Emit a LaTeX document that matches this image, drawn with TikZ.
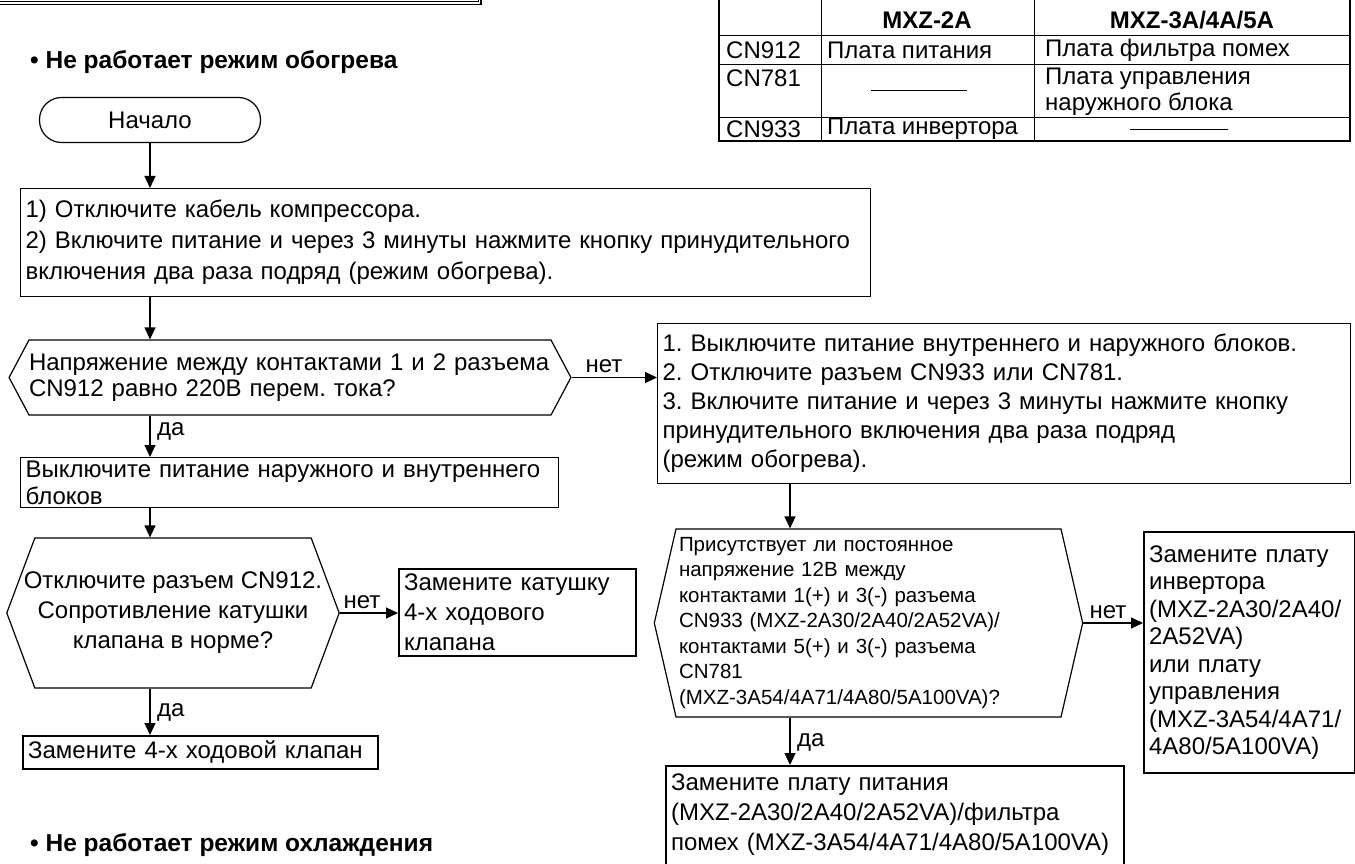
\documentclass[tikz,border=0pt]{standalone}
\usepackage{fontspec}
\setmainfont{Liberation Sans}
\usetikzlibrary{arrows.meta,positioning,shapes.symbols}

\newcommand\txtfont{\fontsize{24}{28}\selectfont}
\newcommand\txtsmall{\fontsize{20.5}{25.5}\selectfont}
\frenchspacing

\begin{document}
\begin{tikzpicture}[
    x=1pt, y=-1pt,
    box/.style={draw, line width=1.2pt, inner sep=5pt, align=left, font=\txtfont},
    thickbox/.style={box, line width=2.2pt},
    dec/.style={draw, line width=1.2pt, signal, signal to=west and east, inner ysep=5pt, font=\txtfont},
    arr/.style={-{Triangle[length=12pt, width=11pt]}, line width=1.2pt},
    lbl/.style={font=\txtfont, inner sep=2pt},
    head/.style={font=\fontsize{24.5}{28}\selectfont\bfseries, anchor=west, inner sep=0pt},
    cell/.style={font=\txtfont, anchor=west, inner sep=0pt, align=left}
]
\useasboundingbox (0,0) rectangle (1355,864);

% rest of the frame above
\draw[line width=0.8pt] (0,1.2) -- (478,1.2) -- (478,0);
\draw[line width=1.8pt] (0,4.5) -- (481,4.5) -- (481,0);

% connector table
\draw[line width=0.9pt] (821,-10) -- (821,141) (1034,-10) -- (1034,141)
    (719,35) -- (1350,35) (719,64) -- (1350,64) (719,117) -- (1350,117);
\draw[line width=1.6pt] (719,-10) rectangle (1350,141);
\node[cell, anchor=center, font=\txtfont\bfseries] (hA) at (927,20) {MXZ-2A};
\node[cell, anchor=center, font=\txtfont\bfseries] (hB) at (1192,20) {MXZ-3A/4A/5A};
\node[cell] (r1) at (726,50) {CN912};
\node[cell] (r1a) at (827,50) {Плата питания};
\node[cell] (r1b) at (1045,50) {Плата фильтра помех};
\node[cell] (r2) at (726,78) {CN781};
\node[cell, anchor=north west, font=\fontsize{24}{26}\selectfont] (r2b) at (1045,68) {Плата управления\\наружного блока};
\node[cell] (r3) at (726,129) {CN933};
\node[cell] (r3a) at (827,129) {Плата инвертора};
\draw[line width=0.9pt] (871,90) -- (967,90) (1130,129) -- (1228,129);

% heating
\coordinate (colL) at (150,0);
\coordinate (colR) at (790,0);
\node[head] (heat) at (30,62) {• Не работает режим обогрева};
\node[draw, line width=1.2pt, rounded corners=22pt, minimum width=221pt, minimum height=45pt, font=\txtfont] (start) at (150,120) {Начало};

\node[box, anchor=north west, text width=840pt, minimum height=108pt, font=\fontsize{24}{31}\selectfont] (step1) at (20,188)
    {1) Отключите кабель компрессора.\\2) Включите питание и через 3 минуты нажмите кнопку принудительного\\включения два раза подряд (режим обогрева).};
\node[dec, align=left, text width=522pt, inner xsep=0pt, minimum height=75pt, signal pointer angle=124, font=\fontsize{24}{26.5}\selectfont] (volt) at (290,377.5)
    {Напряжение между контактами 1 и 2 разъема\\CN912 равно 220В перем. тока?};
\node[box, anchor=north west, text width=528pt, inner ysep=3pt, font=\fontsize{24}{27}\selectfont] (off1) at (20,457)
    {Выключите питание наружного и внутреннего\\блоков};
\node[dec, align=center, inner xsep=-11pt, minimum height=150pt, signal pointer angle=139, font=\fontsize{24}{30}\selectfont] (coil) at (173,613)
    {Отключите разъем CN912.\\Сопротивление катушки\\клапана в норме?};
\node[thickbox, anchor=north west, text width=227pt, font=\fontsize{24}{30}\selectfont] (coilrep) at (398,568)
    {Замените катушку\\4-х ходового\\клапана};
\node[thickbox, anchor=north west, text width=345pt] (valve) at (22,735)
    {Замените 4-х ходовой клапан};
\node[head] (cool) at (30,845) {• Не работает режим охлаждения};

\node[box, anchor=north west, text width=683pt, minimum height=160pt, font=\fontsize{24}{29}\selectfont] (act1) at (657,323)
    {1. Выключите питание внутреннего и наружного блоков.\\2. Отключите разъем CN933 или CN781.\\3. Включите питание и через 3 минуты нажмите кнопку\\принудительного включения два раза подряд\\(режим обогрева).};
\node[dec, align=left, text width=379pt, inner xsep=3pt, minimum height=188pt, signal pointer angle=154, font=\txtsmall] (dc) at (868.5,623)
    {Присутствует ли постоянное\\напряжение 12В между\\контактами 1(+) и 3(-) разъема\\CN933 (MXZ-2A30/2A40/2A52VA)/\\контактами 5(+) и 3(-) разъема\\CN781\\(MXZ-3A54/4A71/4A80/5A100VA)?};
\node[thickbox, anchor=north west, text width=201pt, minimum height=241pt, font=\fontsize{24}{27.5}\selectfont] (invrep) at (1143,531)
    {Замените плату\\инвертора\\(MXZ-2A30/2A40/\\2A52VA)\\или плату\\управления\\(MXZ-3A54/4A71/\\4A80/5A100VA)};
\node[thickbox, anchor=north west, text width=448pt, inner ysep=8pt, font=\fontsize{24}{30}\selectfont] (psrep) at (665,765)
    {Замените плату питания\\(MXZ-2A30/2A40/2A52VA)/фильтра\\помех (MXZ-3A54/4A71/4A80/5A100VA)\\\mbox{}};

\node[lbl, anchor=west] (yes1) at (155,431) {да};
\node[lbl, anchor=south] (no1) at (604,375) {нет};
\node[lbl, anchor=south] (no2) at (362,611) {нет};
\node[lbl, anchor=west] (yes2) at (155,712) {да};
\node[lbl, anchor=south] (no3) at (1108,621) {нет};
\node[lbl, anchor=west] (yes3) at (795,742) {да};

\draw[arr] (start.south -| colL) -- (step1.north -| colL);
\draw[arr] (step1.south -| colL) -- (volt.north -| colL);
\draw[arr] (volt.south -| colL) -- (off1.north -| colL);
\draw[arr] (off1.south -| colL) -- (coil.north -| colL);
\draw[arr] (coil.south -| colL) -- (valve.north -| colL);
\draw[arr] (volt.east) -- (volt.east -| act1.west);
\draw[arr] (coil.east) -- (coil.east -| coilrep.west);
\draw[arr] (act1.south -| colR) -- (dc.north -| colR);
\draw[arr] (dc.east) -- (dc.east -| invrep.west);
\draw[arr] (dc.south -| colR) -- (psrep.north -| colR);
\end{tikzpicture}
\end{document}
